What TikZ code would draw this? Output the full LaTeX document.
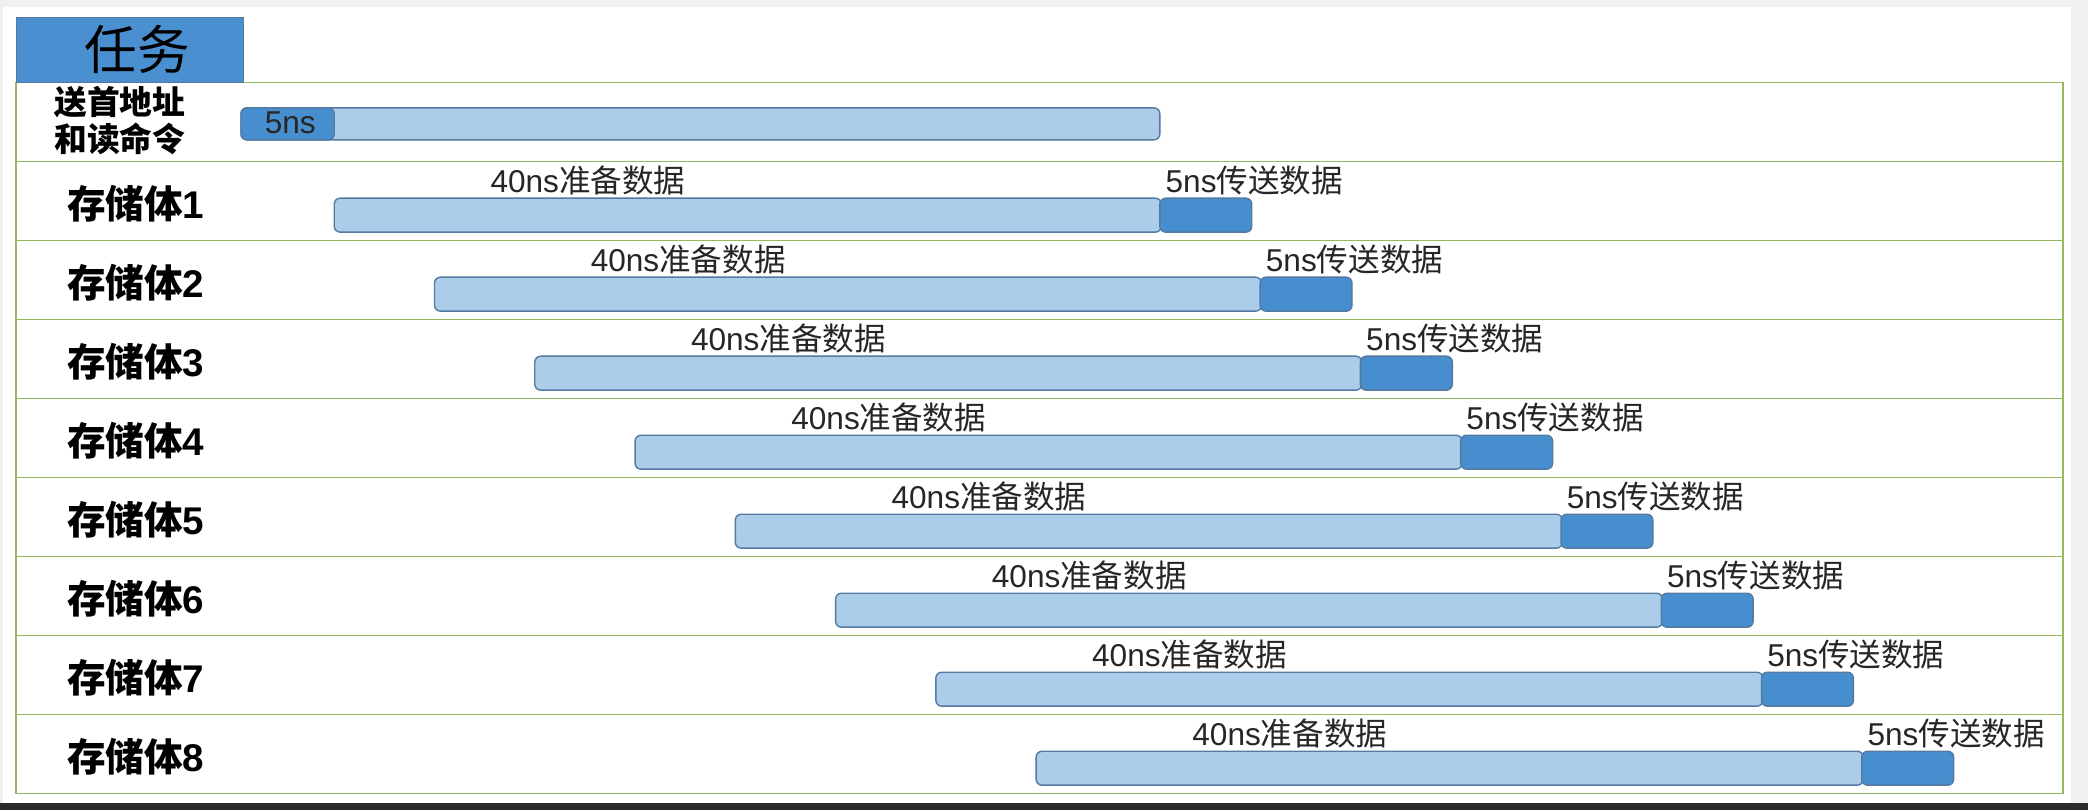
\documentclass[tikz,border=0pt]{standalone}
\usepackage{fontspec}
\setmainfont{Liberation Sans}
\newfontfamily\cjk{Noto Sans CJK SC}
\usetikzlibrary{positioning}
\definecolor{fondogris}{RGB}{240,240,240}
\definecolor{fondooscuro}{RGB}{42,42,42}
\definecolor{verderejilla}{RGB}{150,185,95}
\definecolor{azulclaro}{RGB}{171,205,234}
\definecolor{azuloscuro}{RGB}{70,142,205}
\definecolor{bordebarra}{RGB}{84,122,162}
\definecolor{azulcabecera}{RGB}{74,144,208}

\begin{document}
\begin{tikzpicture}[
  x=0.02cm, y=-0.02cm,
  rejilla/.style={draw=verderejilla, line width=0.7pt},
  cabecera/.style={inner sep=0pt, font=\cjk\fontsize{22.5}{24}\selectfont},
  tarea/.style={inner sep=0pt, align=center,
    font=\bfseries\fontsize{16.5}{18}\selectfont},
  preparar/.style={draw=bordebarra, fill=azulclaro, rounded corners=2.5pt, line width=0.6pt},
  transferir/.style={draw=bordebarra, fill=azuloscuro, rounded corners=2.5pt, line width=0.6pt},
  nota/.style={anchor=west, inner sep=0pt, text=black!85,
    font=\fontsize{13.5}{15}\selectfont}
]
  % fondo
  \fill[fondogris] (0,0) rectangle (1568,608);
  \fill[white] (2,5) rectangle (1555,603);
  \fill[fondooscuro] (0,603) rectangle (1568,608);
  \useasboundingbox (0,0) rectangle (1568,608);

  % tabla
  \draw[rejilla] (12,62) rectangle (1549,596);
  \foreach \k in {1,...,8}
    \draw[rejilla] (12,62+59.33*\k) -- (1549,62+59.33*\k);
  \draw[draw=bordebarra, fill=azulcabecera] (12,13) rectangle (183,62);
  \node[cabecera] (titulo) at (103,37) {任务};

  % fila de direccion
  \node[tarea, font=\cjk\bfseries\fontsize{14}{15.5}\selectfont] (envio) at (90,90.5) {送首地址\\和读命令};
  \draw[preparar] (181,81) rectangle (871,105);
  \draw[transferir] (181,81) rectangle (251,105);
  \node[nota, anchor=center] (inicio) at (218,92.5) {5ns};

  % bancos de memoria
  \foreach \k in {1,...,8}{
    \pgfmathsetmacro{\xs}{251+75.3*(\k-1)}
    \pgfmathsetmacro{\yt}{62+59.33*\k}
    \node[tarea] (banco\k) at (102,\yt+32) {{\cjk\bfseries 存储体}\k};
    \draw[preparar] (\xs,\yt+27.5) rectangle (\xs+621,\yt+53);
    \draw[transferir] (\xs+620,\yt+27.5) rectangle (\xs+689,\yt+53);
    \node[nota] (prep\k) at (\xs+117,\yt+14) {40ns{\cjk 准备数据}};
    \node[nota] (env\k) at (\xs+624,\yt+14) {5ns{\cjk 传送数据}};
  }
\end{tikzpicture}
\end{document}
